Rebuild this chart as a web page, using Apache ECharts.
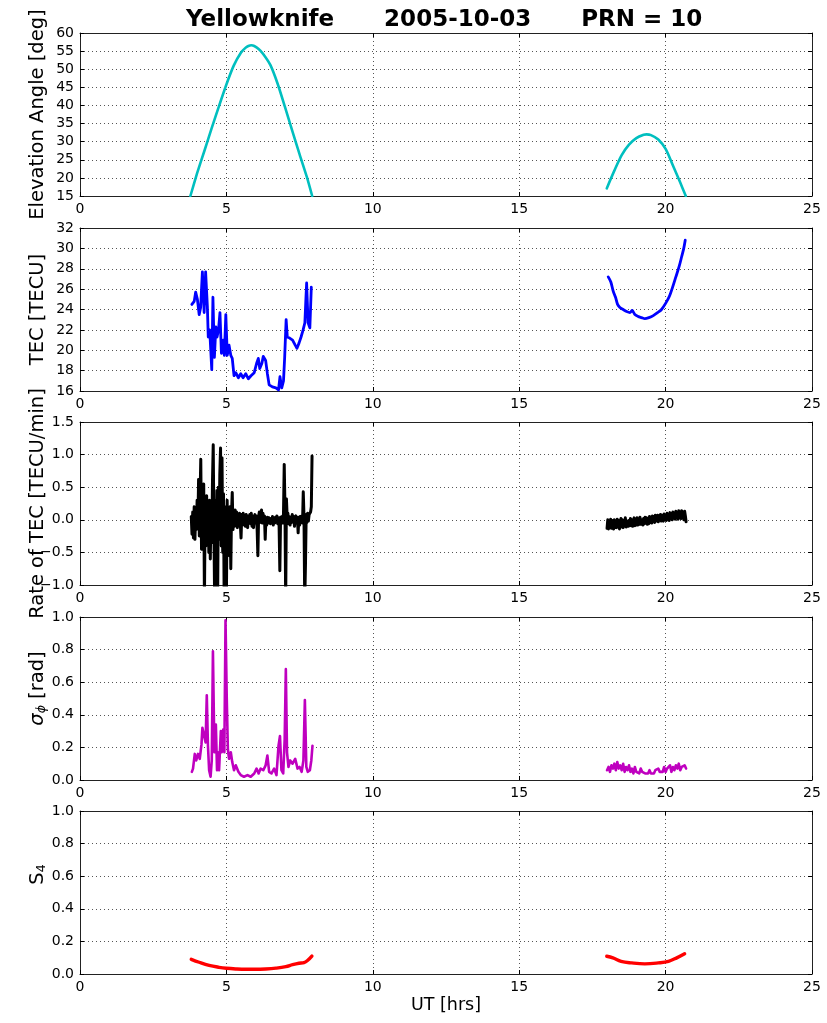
<!DOCTYPE html>
<html>
<head>
<meta charset="utf-8">
<script src="https://cdn.jsdelivr.net/npm/echarts@6.0.0/dist/echarts.min.js"></script>
<style>
  html, body { margin: 0; padding: 0; background: #fff; }
  #chart { width: 827px; height: 1023px; }
</style>
</head>
<body>
<div id="chart"></div>
<script>
// ---- data -------------------------------------------------------------
const xTickValues = [0, 5, 10, 15, 20, 25];

// Elevation angle [deg], two satellite passes
const elevTime1 = [3.77, 4.0, 4.25, 4.5, 4.75, 5.0, 5.25, 5.5, 5.65, 5.75, 5.85, 5.95, 6.1, 6.25, 6.5, 6.75, 7.0, 7.25, 7.5, 7.75, 7.93];
const elevVal1  = [15, 21.3, 27.5, 33.8, 39.9, 45.8, 51.0, 54.6, 55.9, 56.4, 56.6, 56.4, 55.6, 54.3, 51.2, 46.0, 39.6, 33.0, 26.5, 20.2, 15];
const elevTime2 = [17.99, 18.25, 18.5, 18.75, 19.0, 19.25, 19.35, 19.5, 19.75, 20.0, 20.25, 20.5, 20.69];
const elevVal2  = [17.1, 22.0, 26.3, 29.2, 31.0, 31.9, 32.0, 31.8, 30.6, 28.0, 23.4, 18.7, 15];

// TEC [TECU]
const tecTime1 = [3.82, 3.90, 3.95, 4.01, 4.07, 4.12, 4.18, 4.24, 4.29, 4.35, 4.38, 4.43, 4.50, 4.54, 4.59, 4.64, 4.68, 4.73, 4.78, 4.83,
  4.89, 4.93, 4.98, 5.03, 5.09, 5.15, 5.20, 5.26, 5.32, 5.41, 5.49, 5.57, 5.66, 5.75, 5.84, 5.95, 6.03, 6.09, 6.14, 6.21,
  6.26, 6.34, 6.40, 6.46, 6.57, 6.69, 6.78, 6.83, 6.89, 6.95, 6.99, 7.04, 7.08, 7.16, 7.26, 7.35, 7.41, 7.48, 7.55, 7.62,
  7.68, 7.71, 7.74, 7.79, 7.85, 7.90];
const tecVal1 = [24.5, 24.8, 25.7, 25.0, 23.5, 24.2, 27.7, 23.7, 27.7, 24.3, 21.3, 22.0, 18.1, 25.2, 19.3, 22.3, 21.3, 22.0, 23.7, 19.7,
  21.0, 19.5, 23.5, 19.5, 20.5, 19.5, 19.2, 17.5, 17.8, 17.3, 17.7, 17.3, 17.7, 17.2, 17.5, 17.8, 18.7, 19.2, 18.2, 18.7,
  19.4, 19.0, 17.7, 16.6, 16.4, 16.3, 16.1, 17.4, 16.3, 17.0, 19.3, 23.0, 21.3, 21.2, 21.0, 20.5, 20.2, 20.7, 21.3, 22.0,
  22.7, 24.7, 26.6, 22.7, 22.2, 26.2];
const tecTime2 = [18.04, 18.13, 18.21, 18.29, 18.36, 18.44, 18.55, 18.67, 18.78, 18.86, 18.95, 19.07, 19.18, 19.29, 19.43, 19.58,
  19.73, 19.86, 20.0, 20.13, 20.24, 20.35, 20.46, 20.55, 20.62, 20.67];
const tecVal2 = [27.2, 26.7, 25.8, 25.2, 24.5, 24.2, 24.0, 23.8, 23.7, 23.9, 23.5, 23.3, 23.2, 23.1, 23.2, 23.4,
  23.7, 24.0, 24.6, 25.3, 26.2, 27.2, 28.2, 29.2, 30.0, 30.8];

// Rate of TEC [TECU/min], regularly sampled every 0.025 h
const rotStep = 0.025;
const rotStart1 = 3.80;
const rotVal1 = [
  0.05, -0.22, 0.12, -0.28,   0.20, -0.30, 0.08, -0.15,   0.30, -0.10, 0.62, -0.25,   0.35, 0.93, -0.45, 0.40,
  -0.35, 0.55, -1.25, 0.30,   -0.40, 0.37, -0.30, 0.25,   -0.50, 0.30, -0.60, 0.20,   -0.35, 0.60, 1.15, -0.20,
  -1.30, 0.30, -0.60, 0.45,   -1.25, 0.50, -0.30, 0.70,   1.10, -0.40, 0.95, -0.50,   0.40, -1.30, 0.20, -0.40,
  -1.20, 0.30, -0.40, 0.10,   -0.55, 0.20, -0.75, 0.10,   0.42, -0.15, 0.10, -0.10,   0.15, -0.05, 0.12, -0.12,
  0.08, -0.08, 0.10, -0.05,   -0.28, 0.08, -0.05, 0.10,   -0.08, 0.05, -0.10, 0.08,   0.02, -0.12, 0.06, -0.04,
  0.08, -0.06, 0.10, -0.10,   0.06, -0.12, 0.04, 0.08,    -0.05, 0.06, -0.15, -0.55,  0.05, 0.12, -0.04, 0.08,
  0.15, -0.05, 0.10, -0.02,   0.06, -0.30, 0.02, -0.08,   0.04, -0.05, 0.03, -0.02,   -0.06, 0.02, -0.04, 0.05,
  -0.08, 0.00, -0.05, 0.04,   -0.02, 0.06, -0.06, 0.03,   -0.10, -0.78, 0.04, -0.03,  0.05, -0.05, 0.10, 0.85,
  0.20, -1.25, 0.32, 0.05,    0.10, -0.06, 0.05, -0.08,   0.04, -0.04, 0.08, -0.02,   0.05, -0.10, 0.02, 0.06,
  -0.05, 0.03, -0.20, 0.04,   -0.08, 0.05, -0.03, 0.06,   -0.05, 0.43, 0.05, -1.25,   -0.70, 0.08, -0.04, 0.10,
  -0.02, 0.08, 0.05, 0.12,    0.20, 0.98
];
const rotStart2 = 18.0;
const rotVal2 = [
  -0.13, 0.00, -0.14, -0.02,  -0.11, 0.01, -0.13, -0.01,  -0.04, -0.14, 0.00, -0.12,  -0.02, -0.12, 0.01, -0.10,
  -0.01, -0.14, -0.03, 0.02,  -0.11, 0.00, -0.12, -0.01,  -0.09, 0.03, -0.11, -0.02,  0.01, -0.10, -0.01, -0.09,
  0.02, -0.09, 0.00, -0.10,   -0.01, 0.03, -0.09, 0.00,   -0.08, 0.03, -0.08, 0.01,   -0.07, 0.04, -0.07, 0.00,
  0.03, -0.08, 0.02, -0.06,   0.04, -0.05, 0.03, -0.07,   0.02, -0.06, 0.05, -0.04,   0.04, -0.05, 0.06, -0.03,
  0.05, -0.04, 0.07, -0.02,   0.03, 0.07, -0.03, 0.06,    0.00, 0.08, -0.02, 0.07,    0.05, -0.02, 0.09, 0.01,
  0.07, -0.01, 0.10, 0.02,    0.08, -0.01, 0.11, 0.02,    0.09, 0.00, 0.12, 0.03,     0.10, 0.01, 0.13, 0.03,
  0.11, 0.01, 0.14, 0.04,     0.12, 0.02, 0.14, 0.05,     0.10, 0.00, 0.13, 0.06,     -0.03
];

// Phase scintillation sigma_phi [rad]
const sigTime1 = [3.82, 3.86, 3.92, 3.97, 4.03, 4.09, 4.15, 4.18, 4.24, 4.29, 4.33, 4.37, 4.41, 4.46, 4.50, 4.54, 4.59, 4.64, 4.68, 4.71,
  4.75, 4.81, 4.84, 4.89, 4.93, 4.97, 5.01, 5.05, 5.09, 5.15, 5.20, 5.26, 5.32, 5.41, 5.49, 5.60, 5.72, 5.83, 5.95, 6.03,
  6.10, 6.17, 6.26, 6.34, 6.40, 6.46, 6.54, 6.63, 6.71, 6.78, 6.83, 6.88, 6.94, 6.99, 7.03, 7.07, 7.12, 7.18, 7.26, 7.35,
  7.43, 7.50, 7.57, 7.63, 7.68, 7.73, 7.78, 7.85, 7.90, 7.94];
const sigVal1 = [0.05, 0.07, 0.16, 0.12, 0.16, 0.13, 0.22, 0.32, 0.33, 0.23, 0.52, 0.21, 0.06, 0.02, 0.12, 0.79, 0.17, 0.34, 0.06, 0.17,
  0.06, 0.30, 0.17, 0.31, 0.17, 0.98, 0.52, 0.19, 0.13, 0.17, 0.11, 0.06, 0.09, 0.05, 0.03, 0.02, 0.03, 0.02, 0.04, 0.07,
  0.04, 0.07, 0.06, 0.09, 0.15, 0.05, 0.04, 0.07, 0.03, 0.21, 0.27, 0.06, 0.04, 0.25, 0.68, 0.17, 0.08, 0.12, 0.10, 0.13,
  0.07, 0.08, 0.05, 0.12, 0.49, 0.08, 0.05, 0.06, 0.12, 0.21];
const sigStep2 = 0.05;
const sigStart2 = 18.0;
const sigVal2 = [
  0.06, 0.08, 0.05, 0.09, 0.07,  0.10, 0.06, 0.11, 0.07, 0.09,  0.06, 0.10, 0.05, 0.08, 0.06,
  0.09, 0.05, 0.07, 0.04, 0.08,  0.05, 0.06, 0.04, 0.07, 0.05,  0.06, 0.04, 0.05, 0.04, 0.06,
  0.04, 0.05, 0.04, 0.06, 0.05,  0.07, 0.05, 0.06, 0.05, 0.08,  0.05, 0.07, 0.06, 0.09, 0.05,
  0.08, 0.06, 0.09, 0.07, 0.10,  0.06, 0.08, 0.07, 0.09, 0.07
];

// Amplitude scintillation S4
const s4Time1 = [3.80, 4.07, 4.41, 4.75, 5.0, 5.32, 5.66, 6.0, 6.34, 6.69, 7.03, 7.26, 7.48, 7.65, 7.77, 7.92];
const s4Val1  = [0.090, 0.072, 0.053, 0.041, 0.035, 0.031, 0.029, 0.029, 0.031, 0.036, 0.045, 0.057, 0.066, 0.070, 0.083, 0.110];
const s4Time2 = [17.99, 18.2, 18.48, 18.84, 19.29, 19.75, 20.1, 20.38, 20.65];
const s4Val2  = [0.109, 0.099, 0.078, 0.068, 0.062, 0.068, 0.078, 0.099, 0.124];

// y-axis ranges: [min, max, interval, decimals]
const yTicks = [[15, 60, 5, 0], [16, 32, 2, 0], [-1, 1.5, 0.5, 1], [0, 1, 0.2, 1], [0, 1, 0.2, 1]];

// ---- helpers ----------------------------------------------------------
const pairs = (t, v) => v.map((y, i) => [t[i], y]);
const regular = (start, step, v) => v.map((y, i) => [+(start + i * step).toFixed(4), y]);

const FONT = '"DejaVu Sans", Verdana, sans-serif';
const panelTops = [33, 228, 422, 617, 811];
const PANEL_H = 163;
const frameColor = '#222';
const gridLine = { show: true, lineStyle: { type: [1, 3], color: '#555', width: 1 } };
const NAME_SIZE = 19.5;

const yNames = [
  'Elevation Angle [deg]',
  'TEC [TECU]',
  'Rate of TEC [TECU/min]',
  '{it|σ}{sub|ϕ} [rad]',
  '{n|S}{sub|4}'
];
const yNamePadding = [0, 0, 0, [0, 0, 0, 20], [0, 0, 0, 36]];

const grid = [], xAxis = [], yAxis = [];
panelTops.forEach((top, i) => {
  grid.push({ left: 80, width: 732, top: top, height: PANEL_H });
  const [ymin, ymax, yint, dec] = yTicks[i];
  const xBase = {
    gridIndex: i, type: 'value', min: 0, max: 25, interval: 5,
    axisLine: { show: true, onZero: false, lineStyle: { color: frameColor, width: 1 } },
    axisTick: { show: true, inside: true, length: 4, lineStyle: { color: '#000' } }
  };
  xAxis.push(Object.assign({}, xBase, {
    position: 'bottom',
    splitLine: gridLine,
    axisLabel: { show: true, margin: 6, color: '#000', fontFamily: FONT, fontSize: 14,
                 showMinLabel: true, showMaxLabel: true,
                 formatter: v => xTickValues.includes(v) ? String(v) : '' },
    name: i === 4 ? 'UT [hrs]' : '',
    nameLocation: 'middle', nameGap: 22, nameMoveOverlap: false,
    nameTextStyle: { color: '#000', fontFamily: FONT, fontSize: 17.5 }
  }));
  xAxis.push(Object.assign({}, xBase, {
    position: 'top', splitLine: { show: false }, axisLabel: { show: false }
  }));
  const yBase = {
    gridIndex: i, type: 'value', min: ymin, max: ymax, interval: yint,
    axisLine: { show: true, onZero: false, lineStyle: { color: frameColor, width: 1 } },
    axisTick: { show: true, inside: true, length: 4, lineStyle: { color: '#000' } }
  };
  yAxis.push(Object.assign({}, yBase, {
    position: 'left',
    splitLine: gridLine,
    axisLabel: { show: true, margin: 6, color: '#000', fontFamily: FONT, fontSize: 14,
                 showMinLabel: true, showMaxLabel: true,
                 formatter: v => v.toFixed(dec).replace('-', '\u2212') },
    name: yNames[i], nameLocation: 'middle', nameRotate: 90, nameGap: 32, nameMoveOverlap: false,
    nameTextStyle: {
      color: '#000', fontFamily: FONT, fontSize: NAME_SIZE, padding: yNamePadding[i],
      rich: {
        it: { fontFamily: FONT, fontStyle: 'italic', fontSize: NAME_SIZE, color: '#000' },
        n: { fontFamily: FONT, fontSize: NAME_SIZE, color: '#000' },
        sub: { fontFamily: FONT, fontStyle: i === 3 ? 'italic' : 'normal', fontSize: 12.5, color: '#000',
               verticalAlign: 'bottom', lineHeight: 12, padding: [9, 0, 0, 0] }
      }
    }
  }));
  yAxis.push(Object.assign({}, yBase, {
    position: 'right', splitLine: { show: false }, axisLabel: { show: false }
  }));
});

function line(panel, data, color, width, smooth) {
  return {
    type: 'line', xAxisIndex: panel * 2, yAxisIndex: panel * 2, data: data,
    showSymbol: false, symbol: 'none', smooth: smooth || false, clip: true,
    lineStyle: { color: color, width: width, join: 'round', cap: 'round' },
    z: 3
  };
}

const series = [
  line(0, pairs(elevTime1, elevVal1), '#00BFBF', 2.6, 0.2),
  line(0, pairs(elevTime2, elevVal2), '#00BFBF', 2.6, 0.3),
  line(1, pairs(tecTime1, tecVal1), '#0000FF', 2.8),
  line(1, pairs(tecTime2, tecVal2), '#0000FF', 2.8, 0.3),
  line(2, regular(rotStart1, rotStep, rotVal1), '#000000', 3),
  line(2, regular(rotStart2, rotStep, rotVal2), '#000000', 3),
  line(3, pairs(sigTime1, sigVal1), '#BF00BF', 2.6),
  line(3, regular(sigStart2, sigStep2, sigVal2), '#BF00BF', 2.6),
  line(4, pairs(s4Time1, s4Val1), '#FF0000', 3.4, 0.4),
  line(4, pairs(s4Time2, s4Val2), '#FF0000', 3.4, 0.4)
];

const chart = echarts.init(document.getElementById('chart'), null, { renderer: 'canvas' });
chart.setOption({
  animation: false,
  backgroundColor: '#fff',
  title: {
    text: 'Yellowknife{g| }2005-10-03{g| }PRN = 10',
    left: 181, top: 4,
    textStyle: {
      fontFamily: FONT, fontWeight: 'bold', fontSize: 23, color: '#000',
      rich: { g: { width: 50, fontSize: 23 } }
    }
  },
  grid: grid,
  xAxis: xAxis,
  yAxis: yAxis,
  series: series
});
</script>
</body>
</html>
